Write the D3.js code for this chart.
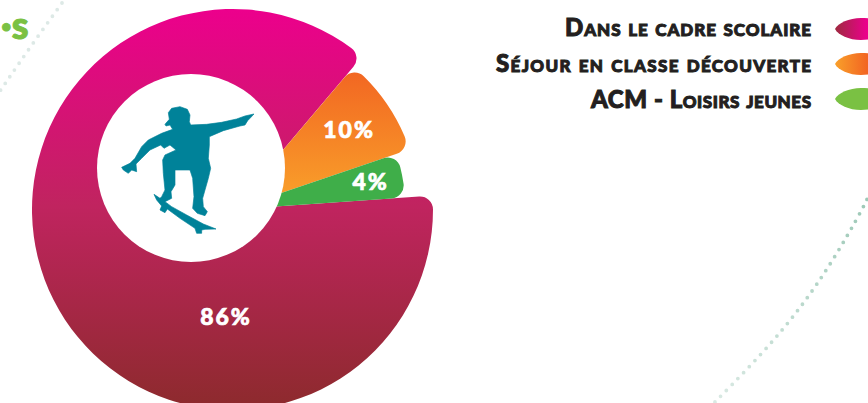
<!DOCTYPE html>
<html><head><meta charset="utf-8">
<script src="https://cdn.jsdelivr.net/npm/d3@7"></script>
<style>html,body{margin:0;padding:0;background:#fff;overflow:hidden}svg{display:block}text{font-family:Lato,sans-serif}</style>
</head><body><svg id="c" width="868" height="403"></svg>
<script>
const categories = ["Dans le cadre scolaire", "Séjour en classe découverte", "ACM - Loisirs jeunes"];
const valueLabels = ["86%", "10%", "4%"];
const drawnShares = [87.3, 8.6, 4.1];

const svg = d3.select("#c");
const defs = svg.append("defs");
const cx = 232.5, cy = 209.5;
const outerR = [200.5, 187, 173];
const toRad = d => d * Math.PI / 180;

function grad(id, x1, y1, x2, y2, stops) {
  const g = defs.append("linearGradient").attr("id", id).attr("gradientUnits", "userSpaceOnUse")
    .attr("x1", x1).attr("y1", y1).attr("x2", x2).attr("y2", y2);
  stops.forEach(s => g.append("stop").attr("offset", s[0]).attr("stop-color", s[1]));
}
grad("gA", 0, 10 - cy, 0, 403 - cy, [[0, "#ec008c"], [0.5, "#c0245f"], [1, "#8e2a2e"]]);
grad("gB", 0, 68 - cy, 0, 200 - cy, [[0, "#f26522"], [1, "#f9a02a"]]);
grad("lA", 0, 0, 32, 0, [[0, "#9e2a3f"], [1, "#ec008c"]]);
grad("lB", 0, 0, 32, 0, [[0, "#f9a02a"], [1, "#f26522"]]);
grad("dR", 868, 195, 717, 400, [[0, "#9cc8b6"], [1, "#d9e9e3"]]);

// dotted decoration
const dotLine = d3.line().curve(d3.curveBasis);
svg.append("path")
  .attr("d", dotLine([[870,192],[866,203],[833,261],[800,309],[763,353],[717,400],[712,405]]))
  .attr("fill", "none").attr("stroke", "url(#dR)").attr("stroke-width", 3.8)
  .attr("stroke-linecap", "round").attr("stroke-dasharray", "0 8.2");
svg.append("path")
  .attr("d", dotLine([[62,3],[33,43],[0,91]]))
  .attr("fill", "none").attr("stroke", "#dde9e6").attr("stroke-width", 3.8)
  .attr("stroke-linecap", "round").attr("stroke-dasharray", "0 8.2");

// title fragment
svg.append("text").attr("x", 1).attr("y", 39).attr("fill", "#7ac143")
  .attr("stroke", "#7ac143").attr("stroke-width", 1)
  .attr("font-size", 38).attr("font-weight", 900).text("·s");

// pie
const pie = d3.pie().sort(null).value(d => d).startAngle(toRad(86)).endAngle(toRad(86 + 360));
const arcs = pie(drawnShares);
const fills = ["url(#gA)", "url(#gB)", "#3fae49"];
const g = svg.append("g").attr("transform", `translate(${cx},${cy})`);
g.selectAll("path").data(arcs).join("path")
  .attr("d", (d, i) => d3.arc().innerRadius(0).outerRadius(outerR[i]).cornerRadius(13)(d))
  .attr("fill", (d, i) => fills[i]);

// white hole + skater
svg.append("circle").attr("cx", 191).attr("cy", 168).attr("r", 94).attr("fill", "#fff");
const skater = [[225,103],[238,88],[235,68],[245,55],[270,50],[292,58],[300,75],[298,95],[302,105],[350,103],[395,97],[440,87],[465,78],[492,72],[480,85],[473,92],[465,105],[450,108],[400,122],[358,140],[358,165],[355,205],[362,235],[355,265],[345,300],[338,325],[340,350],[352,365],[345,377],[322,370],[308,355],[312,320],[308,265],[300,240],[255,240],[255,285],[243,305],[245,325],[225,335],[245,350],[290,375],[340,402],[378,417],[345,418],[335,420],[335,430],[320,430],[315,415],[270,385],[232,357],[225,368],[210,360],[215,348],[200,330],[192,313],[210,325],[215,320],[225,300],[220,250],[218,210],[225,195],[258,180],[240,165],[222,175],[212,165],[180,180],[155,205],[138,222],[140,245],[125,240],[115,250],[100,240],[95,232],[120,220],[135,205],[155,170],[175,150],[215,130],[248,118],[240,105],[228,108]];
svg.append("path").attr("transform", "translate(90,90) scale(0.3333)")
  .attr("d", d3.line().curve(d3.curveLinearClosed)(skater)).attr("fill", "#008299")
  .attr("stroke", "#008299").attr("stroke-width", 2).attr("stroke-linejoin", "round");

// value labels
const labelArc = d3.arc().innerRadius(141).outerRadius(141);
const labelPos = arcs.map((d, i) => i === 0 ? [-6.5, 107] : labelArc.centroid(d));
g.selectAll("text").data(valueLabels).join("text")
  .attr("x", (d, i) => labelPos[i][0]).attr("y", (d, i) => labelPos[i][1] + 8)
  .attr("text-anchor", "middle").attr("fill", "#fff").attr("stroke", "#fff").attr("stroke-width", 0.7)
  .attr("letter-spacing", 2).attr("font-size", 23).attr("font-weight", 900)
  .text(d => d);

// legend
const leafY = d3.scalePoint().domain(categories).range([29, 99]);
const textY = d3.scalePoint().domain(categories).range([36, 108]);
const textWidth = [246, 315, 220];
const lg = svg.append("g");
lg.selectAll("text").data(categories).join("text")
  .attr("x", 811).attr("y", d => textY(d))
  .attr("text-anchor", "end").attr("fill", "#231f20").attr("stroke", "#231f20").attr("stroke-width", 1)
  .attr("font-size", 24).attr("font-weight", 900)
  .attr("textLength", (d, i) => textWidth[i]).attr("lengthAdjust", "spacing")
  .style("font-variant", "small-caps").text(d => d);
const leafColors = ["url(#lA)", "url(#lB)", "#7ac143"];
lg.selectAll("path").data(categories).join("path")
  .attr("transform", d => `translate(835,${leafY(d)})`)
  .attr("d", () => {
    const p = d3.path();
    p.moveTo(0, 0);
    p.bezierCurveTo(3, -6, 14, -11, 26, -11);
    p.bezierCurveTo(34, -11, 40, -10, 44, -8);
    p.lineTo(44, 8);
    p.bezierCurveTo(38, 10, 32, 11, 26, 11);
    p.bezierCurveTo(14, 11, 3, 6, 0, 0);
    p.closePath();
    return p.toString();
  })
  .attr("fill", (d, i) => leafColors[i]);
</script></body></html>
